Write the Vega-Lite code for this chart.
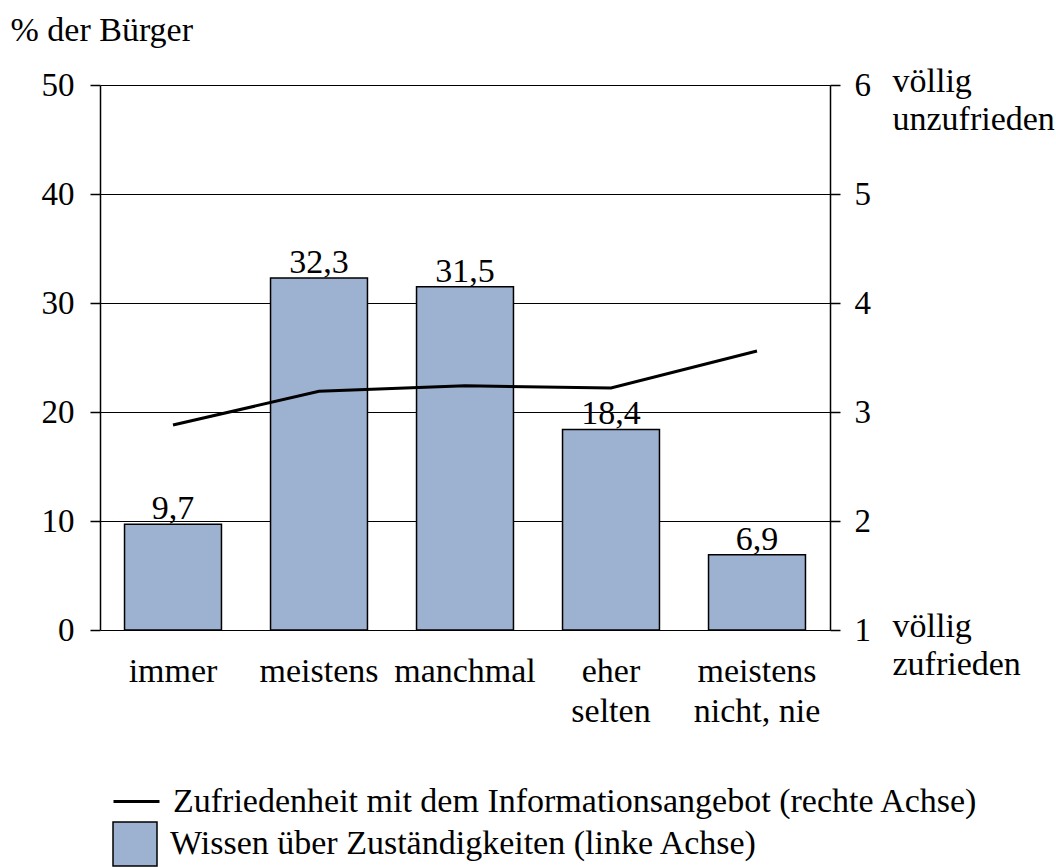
{
  "$schema": "https://vega.github.io/schema/vega-lite/v6.json",
  "width": 730,
  "height": 545,
  "autosize": {"type": "none"},
  "padding": {"left": 100, "top": 85, "right": 226, "bottom": 237},
  "background": "white",
  "config": {
    "font": "Liberation Serif",
    "locale": {"number": {"decimal": ",", "thousands": ".", "grouping": [3], "currency": ["", " €"]}},
    "view": {"stroke": null},
    "axis": {
      "labelFont": "Liberation Serif",
      "titleFont": "Liberation Serif",
      "labelColor": "black",
      "titleColor": "black",
      "domainColor": "black",
      "tickColor": "black",
      "gridColor": "black",
      "gridOpacity": 1,
      "labelFontSize": 33,
      "titleFontSize": 34,
      "titleFontWeight": "normal",
      "domainWidth": 1.5,
      "tickWidth": 1.5
    },
    "legend": {"labelFont": "Liberation Serif", "labelColor": "black"}
  },
  "data": {
    "values": [
      {"kategorie": "immer", "prozent": 9.7, "zufriedenheit": 2.88},
      {"kategorie": "meistens", "prozent": 32.3, "zufriedenheit": 3.19},
      {"kategorie": "manchmal", "prozent": 31.5, "zufriedenheit": 3.24},
      {"kategorie": "eher selten", "prozent": 18.4, "zufriedenheit": 3.22},
      {"kategorie": "meistens nicht, nie", "prozent": 6.9, "zufriedenheit": 3.56}
    ]
  },
  "encoding": {
    "x": {
      "field": "kategorie",
      "type": "nominal",
      "sort": null,
      "scale": {"paddingInner": 0.336, "paddingOuter": 0.168},
      "axis": {
        "title": null,
        "domain": false,
        "ticks": false,
        "labelAngle": 0,
        "labelBaseline": "top",
        "labelPadding": 24,
        "labelLineHeight": 40,
        "labelFontSize": 34,
        "labelExpr": "datum.value == 'eher selten' ? ['eher', 'selten'] : datum.value == 'meistens nicht, nie' ? ['meistens', 'nicht, nie'] : datum.value"
      }
    }
  },
  "layer": [
    {
      "mark": {"type": "bar", "stroke": "black", "strokeWidth": 1.5},
      "encoding": {
        "y": {
          "field": "prozent",
          "type": "quantitative",
          "scale": {"domain": [0, 50], "nice": false},
          "axis": {
            "values": [0, 10, 20, 30, 40, 50],
            "grid": true,
            "gridWidth": 1,
            "tickSize": 10,
            "labelPadding": 16,
            "title": "% der Bürger",
            "titleAngle": 0,
            "titleAlign": "left",
            "titleBaseline": "middle",
            "titleX": -90,
            "titleY": -55
          }
        },
        "fill": {
          "datum": "Wissen über Zuständigkeiten (linke Achse)",
          "type": "nominal",
          "scale": {"range": ["#9DB1D0"]},
          "legend": {
            "title": null,
            "orient": "none",
            "legendX": 12,
            "legendY": 736,
            "direction": "vertical",
            "labelFontSize": 34,
            "symbolType": "square",
            "symbolSize": 1936,
            "symbolStrokeColor": "black",
            "symbolStrokeWidth": 1.5,
            "symbolOpacity": 1,
            "labelOffset": 12,
            "labelLimit": 1000,
            "padding": 0
          }
        }
      }
    },
    {
      "mark": {"type": "text", "baseline": "alphabetic", "dy": -5, "fontSize": 34, "color": "black", "font": "Liberation Serif"},
      "encoding": {
        "y": {"field": "prozent", "type": "quantitative", "scale": {"domain": [0, 50], "nice": false}, "axis": null},
        "text": {"field": "prozent", "type": "quantitative", "format": ".1f"}
      }
    },
    {
      "mark": {"type": "line", "strokeWidth": 3},
      "encoding": {
        "y": {
          "field": "zufriedenheit",
          "type": "quantitative",
          "scale": {"domain": [1, 6], "nice": false, "zero": false},
          "axis": {
            "orient": "right",
            "values": [1, 2, 3, 4, 5, 6],
            "grid": false,
            "tickSize": 10,
            "labelPadding": 14,
            "title": null
          }
        },
        "stroke": {
          "datum": "Zufriedenheit mit dem Informationsangebot (rechte Achse)",
          "type": "nominal",
          "scale": {"range": ["black"]},
          "legend": {
            "title": null,
            "orient": "none",
            "legendX": 12,
            "legendY": 692,
            "direction": "vertical",
            "labelFontSize": 34,
            "symbolType": "stroke",
            "symbolSize": 2116,
            "symbolStrokeWidth": 3,
            "symbolStrokeColor": "black",
            "symbolOpacity": 1,
            "labelOffset": 12,
            "labelLimit": 1000,
            "padding": 0
          }
        }
      }
    },
    {
      "mark": {"type": "point", "opacity": 0},
      "encoding": {
        "y": {
          "field": "zufriedenheit",
          "type": "quantitative",
          "scale": {"domain": [1, 6], "nice": false, "zero": false},
          "axis": {
            "orient": "right",
            "values": [1, 6],
            "grid": false,
            "domain": false,
            "ticks": false,
            "labelPadding": 62,
            "labelAlign": "left",
            "labelBaseline": "middle",
            "labelOffset": -4,
            "labelLineHeight": 38,
            "labelFontSize": 34,
            "labelExpr": "datum.value == 6 ? ['völlig', 'unzufrieden'] : ['völlig', 'zufrieden']",
            "title": null
          }
        }
      }
    }
  ],
  "resolve": {"scale": {"y": "independent"}}
}
